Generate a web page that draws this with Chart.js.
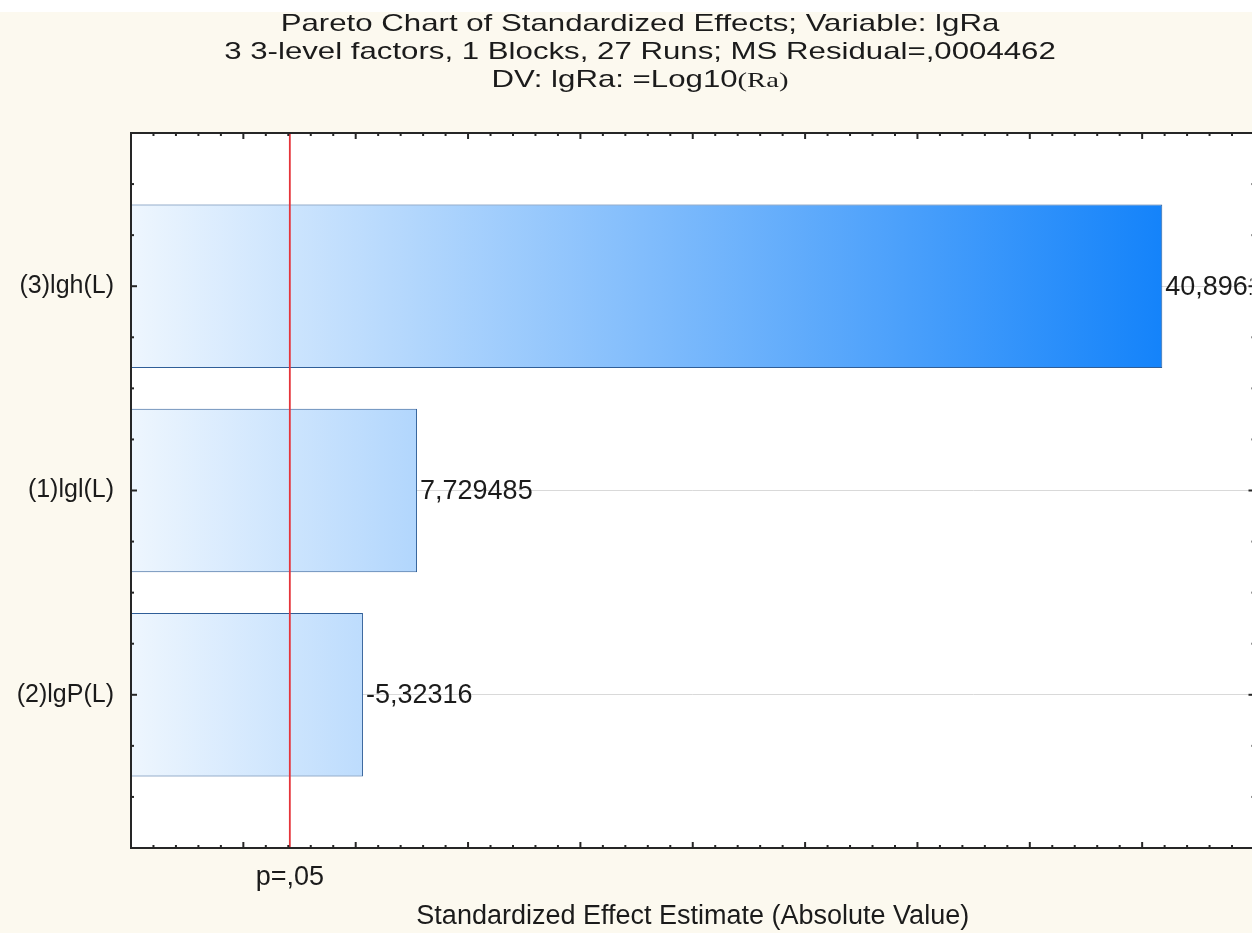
<!DOCTYPE html>
<html>
<head>
<meta charset="utf-8">
<script src="https://cdn.jsdelivr.net/npm/chart.js@4.4.1/dist/chart.umd.min.js"></script>
<style>
  html, body { margin: 0; padding: 0; width: 1252px; height: 933px; overflow: hidden; background: #ffffff; }
  #wrap { position: relative; width: 1260px; height: 933px; }
  canvas { display: block; }
</style>
</head>
<body>
<div id="wrap"><canvas id="chart" width="1260" height="933"></canvas></div>
<script>
// Effects, in Pareto order (largest first)
const categories = ['(3)lgh(L)', '(1)lgl(L)', '(2)lgP(L)'];
const effects = [40.89617, 7.729485, -5.32316];
// Critical t value for p = .05 (23 residual df)
const criticalValue = 2.068658;
const criticalLabel = 'p=,05';

const titleLines = [
  'Pareto Chart of Standardized Effects; Variable: lgRa',
  '3 3-level factors, 1 Blocks, 27 Runs; MS Residual=,0004462'
];
const titleLine3 = ['DV: lgRa: =Log10', '(Ra)'];
const xTitle = 'Standardized Effect Estimate (Absolute Value)';

const SANS = "'Liberation Sans', Arial, Helvetica, sans-serif";
const SERIF = "'Liberation Serif', 'Times New Roman', serif";
const INK = '#1b1b1b';
const AXIS_FONT = 27;
const CATEGORY_FONT = 25;
const TITLE_FONT = 24;
const TITLE_STRETCH = 1.3;   // title text is drawn horizontally widened

const isWhole = v => Math.abs(v - Math.round(v)) < 1e-6;
const fmt = v => String(v).replace('.', ',');
const magnitudes = effects.map(v => Math.abs(v));
const maxMagnitude = Math.max(...magnitudes);

function stroke(ctx, x1, y1, x2, y2) {
  ctx.beginPath();
  ctx.moveTo(x1, y1);
  ctx.lineTo(x2, y2);
  ctx.stroke();
}

// Backgrounds, critical line, value labels, frame with inward ticks, titles
const paretoDecor = {
  id: 'paretoDecor',
  beforeDraw(chart) {
    const { ctx, width, height, chartArea: a } = chart;
    ctx.save();
    ctx.fillStyle = '#ffffff';
    ctx.fillRect(0, 0, width, height);
    ctx.fillStyle = '#fcf9ef';
    ctx.fillRect(0, 12, width, height - 12);
    ctx.fillStyle = '#ffffff';
    ctx.fillRect(a.left, a.top, a.right - a.left, a.bottom - a.top);
    ctx.restore();
  },
  afterDatasetsDraw(chart) {
    const { ctx, chartArea: a, scales: { x, y } } = chart;
    const cx = x.getPixelForValue(criticalValue);

    ctx.save();
    // critical value line
    ctx.strokeStyle = '#e5343a';
    ctx.lineWidth = 1.8;
    stroke(ctx, cx, a.top, cx, a.bottom);

    // value labels next to each bar
    ctx.beginPath();
    ctx.rect(a.left, a.top, a.right - a.left - 3, a.bottom - a.top);
    ctx.clip();
    ctx.font = `${AXIS_FONT}px ${SANS}`;
    ctx.fillStyle = INK;
    ctx.textAlign = 'left';
    ctx.textBaseline = 'middle';
    chart.getDatasetMeta(0).data.forEach((bar, i) => {
      ctx.fillText(fmt(effects[i]), bar.x + 3, bar.y + 1);
    });
    ctx.restore();

    // frame
    ctx.save();
    ctx.strokeStyle = '#262626';
    ctx.lineWidth = 2;
    ctx.strokeRect(a.left, a.top, a.right - a.left, a.bottom - a.top);

    // inward tick marks on all four sides
    x.ticks.forEach(t => {
      const px = x.getPixelForValue(t.value);
      const len = isWhole(t.value / 5) ? 6 : 3;
      stroke(ctx, px, a.bottom, px, a.bottom - len);
      stroke(ctx, px, a.top, px, a.top + len);
    });
    // quarter-category minor ticks along the category axis
    for (let v = y.min; v <= y.max + 1e-9; v += 0.25) {
      const py = y.getPixelForValue(v);
      const len = isWhole(v) ? 6 : 3;
      stroke(ctx, a.left, py, a.left + len, py);
      stroke(ctx, a.right, py, a.right - len, py);
    }

    // label under the critical line
    ctx.font = `${AXIS_FONT}px ${SANS}`;
    ctx.fillStyle = INK;
    ctx.textAlign = 'center';
    ctx.textBaseline = 'middle';
    ctx.fillText(criticalLabel, cx, a.bottom + 30);
    ctx.restore();
  },
  afterDraw(chart) {
    const { ctx } = chart;
    const cx = 640;
    const sans = `${TITLE_FONT}px ${SANS}`;
    const serif = `${TITLE_FONT - 2}px ${SERIF}`;
    ctx.save();
    ctx.fillStyle = INK;
    ctx.textBaseline = 'alphabetic';
    ctx.translate(cx, 0);
    ctx.scale(TITLE_STRETCH, 1);
    ctx.textAlign = 'center';
    ctx.font = sans;
    ctx.fillText(titleLines[0], 0, 31);
    ctx.fillText(titleLines[1], 0, 59);

    // third line mixes a sans part and a serif part
    ctx.textAlign = 'left';
    ctx.font = sans;
    const w1 = ctx.measureText(titleLine3[0]).width;
    ctx.font = serif;
    const w2 = ctx.measureText(titleLine3[1]).width;
    const start = -(w1 + w2) / 2;
    ctx.font = sans;
    ctx.fillText(titleLine3[0], start, 87);
    ctx.font = serif;
    ctx.fillText(titleLine3[1], start + w1, 87);
    ctx.restore();
  }
};

new Chart(document.getElementById('chart'), {
  type: 'bar',
  data: {
    datasets: [{
      data: magnitudes.map((v, i) => ({ x: v, y: i + 1 })),
      base: -5,
      categoryPercentage: 1,
      barPercentage: 0.8,
      borderColor: '#2f5e98',
      borderWidth: 1,
      borderSkipped: false,
      backgroundColor(ctx) {
        const chart = ctx.chart;
        const a = chart.chartArea;
        if (!a) return '#8cc2fc';
        const x1 = chart.scales.x.getPixelForValue(maxMagnitude);
        const g = chart.ctx.createLinearGradient(a.left, 0, x1, 0);
        g.addColorStop(0, '#eef6fe');
        g.addColorStop(1, '#1483fa');
        return g;
      }
    }]
  },
  options: {
    indexAxis: 'y',
    responsive: false,
    animation: false,
    devicePixelRatio: 1,
    layout: { padding: { top: 133, right: 5.5, bottom: 0, left: 0 } },
    plugins: {
      legend: { display: false },
      tooltip: { enabled: false },
      title: { display: false }
    },
    scales: {
      x: {
        type: 'linear',
        position: 'bottom',
        min: -5,
        max: 45,
        ticks: { display: false, stepSize: 1, maxTicksLimit: 100 },
        grid: { display: false, drawTicks: false },
        border: { display: false },
        title: {
          display: true,
          text: xTitle,
          color: INK,
          font: { family: SANS, size: AXIS_FONT },
          padding: { top: 0, bottom: 0 }
        },
        afterFit(scale) { scale.height = 85; }
      },
      y: {
        type: 'linear',
        position: 'left',
        min: 0.25,
        max: 3.75,
        reverse: true,
        offset: false,
        ticks: {
          stepSize: 1,
          autoSkip: false,
          padding: 17,
          color: INK,
          font: { family: SANS, size: CATEGORY_FONT },
          callback: v => (isWhole(v) ? categories[Math.round(v) - 1] : '')
        },
        grid: {
          offset: false,
          drawTicks: false,
          lineWidth: 1,
          color: '#d9d9d9'
        },
        border: { display: false },
        // keep one tick per category so bars size to the category spacing
        afterBuildTicks(scale) {
          scale.ticks = scale.ticks.filter(t => isWhole(t.value) && t.value >= 1);
        },
        afterFit(scale) { scale.width = 131; }
      }
    }
  },
  plugins: [paretoDecor]
});
</script>
</body>
</html>
